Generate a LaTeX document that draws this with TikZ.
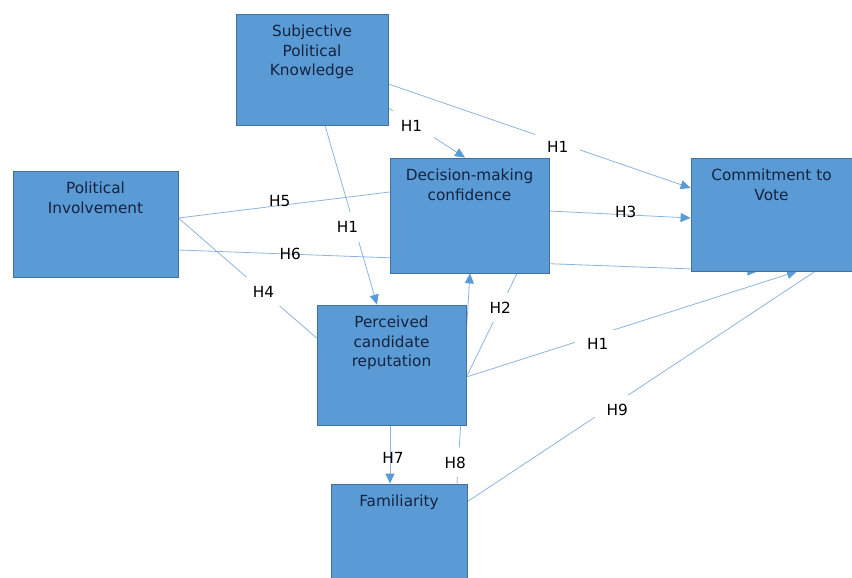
\documentclass[tikz,border=0pt]{standalone}
\usepackage{fontspec}
\setmainfont{DejaVu Sans}
\usepackage{xcolor}
\usetikzlibrary{arrows.meta,backgrounds}

\definecolor{boxblue}{HTML}{5B9BD5}
\definecolor{boxedge}{HTML}{41719C}
\definecolor{boxtext}{HTML}{14233F}
\definecolor{linkblue}{HTML}{8FB4DC}

\begin{document}
\begin{tikzpicture}[x=1pt,y=-1pt]
		\tikzstyle{factor}=[draw=boxedge, fill=boxblue, line width=0.8pt, inner sep=0pt]
		\tikzstyle{factor_text}=[below, yshift=-8pt, align=center, text=boxtext, font=\fontsize{15.3}{19.5}\selectfont]
		\tikzstyle{link}=[draw=linkblue, line width=0.8pt]
		\tikzstyle{arrow}=[link, -{Triangle[length=10pt,width=9pt,color=boxblue]}]
		\tikzstyle{hyp}=[text=black, inner sep=1pt, font=\fontsize{15.3}{18}\selectfont]
		\tikzstyle{hyp_gap}=[hyp, fill=white, inner xsep=12pt, inner ysep=9pt]

		\useasboundingbox (0,0) rectangle (852,578);

		% factors
		\node [factor, minimum width=152pt, minimum height=111pt] (spk) at (312,69.5) {};
		\node at (spk.north) [factor_text] {Subjective\\Political\\Knowledge};

		\node [factor, minimum width=165pt, minimum height=106pt] (pi) at (95.5,224) {};
		\node at (pi.north) [factor_text] {Political\\Involvement};

		\node [factor, minimum width=159pt, minimum height=115pt] (dmc) at (469.5,215.5) {};
		\node at (dmc.north) [factor_text] {Decision-making\\confidence};

		\node [factor, minimum width=161pt, minimum height=113pt] (cv) at (771.5,214.5) {};
		\node at (cv.north) [factor_text] {Commitment to\\Vote};

		\node [factor, minimum width=149pt, minimum height=120pt] (pcr) at (391.5,365) {};
		\node at (pcr.north) [factor_text] {Perceived\\candidate\\reputation};

		\node [factor, minimum width=136pt, minimum height=106pt] (fam) at (399,537) {};
		\node at (fam.north) [factor_text] {Familiarity};

		% hypotheses
		\begin{scope}[on background layer]
			\path ([yshift=-38.5pt]spk.east) edge [arrow] node [hyp_gap, pos=.3, yshift=-3pt] {H1} ([xshift=-4.5pt]dmc.north);
			\path ([yshift=-14.5pt]spk.east) edge [arrow] node [hyp_gap, pos=.56, yshift=-5pt] {H1} ([yshift=26.5pt]cv.west);
			\path ([xshift=13pt]spk.south) edge [arrow] node [hyp_gap, pos=.567, xshift=-7pt] {H1} ([xshift=-14.5pt]pcr.north);

			\path ([yshift=6pt]pi.east) edge [link] node [hyp, pos=.48, yshift=4pt] {H5} ([yshift=23.5pt]dmc.west);
			\path ([yshift=-26pt]pi.east) edge [arrow] node [hyp, pos=.193] {H6} ([xshift=-14pt]cv.south);
			\path ([yshift=6pt]pi.east) edge [link] node [hyp_gap, pos=.616] {H4} ([yshift=27pt]pcr.west);

			\path ([yshift=4.5pt]dmc.east) edge [arrow] node [hyp, pos=.54, yshift=3pt] {H3} ([yshift=-3.5pt]cv.west);

			\path ([yshift=-12pt]pcr.east) edge [link] node [hyp_gap, pos=.67] {H2} ([xshift=47.5pt]dmc.south);
			\path ([yshift=-12pt]pcr.east) edge [arrow] node [hyp_gap, pos=.397, yshift=-9pt] {H1} ([xshift=25.5pt]cv.south);
			\path ([xshift=-1.5pt]pcr.south) edge [arrow] node [hyp, pos=.56, xshift=3pt] {H7} ([xshift=-9pt]fam.north);

			\path ([xshift=58pt]fam.north) edge [arrow] node [hyp_gap, pos=.1, xshift=-3pt] {H8} ([xshift=0.5pt]dmc.south);
			\path ([yshift=-18pt]fam.north east) edge [link] node [hyp_gap, pos=.431, yshift=-7.6pt] {H9} ([xshift=43.5pt]cv.south);
		\end{scope}

\end{tikzpicture}
\end{document}
